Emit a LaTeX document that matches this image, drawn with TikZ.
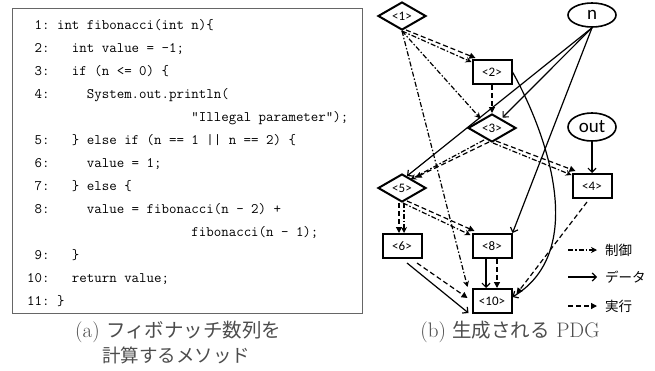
\documentclass[tikz,border=0pt]{standalone}
\usepackage{fontspec}
\newfontfamily\jpfont{Noto Sans CJK JP}
\newfontfamily\carlfont{Carlito}
\usetikzlibrary{shapes.geometric,arrows.meta}
\begin{document}
\begin{tikzpicture}[x=1pt,y=-1pt,
  codeline/.style={anchor=base west, inner sep=0pt, font=\ttfamily\fontsize{14.5}{17}\selectfont},
  rectn/.style={draw, line width=2pt, minimum width=39pt, minimum height=24pt, inner sep=0pt, font=\carlfont\fontsize{13}{14}\selectfont},
  diam/.style={draw, diamond, aspect=1.7, line width=2pt, minimum width=48pt, minimum height=28pt, inner sep=0pt, font=\carlfont\fontsize{13}{14}\selectfont},
  ell/.style={draw, ellipse, line width=1.6pt, minimum width=48pt, inner sep=0pt, font=\carlfont\fontsize{19}{20}\selectfont},
  ctrl/.style={line width=1.2pt, dash pattern=on 5pt off 2pt on 1.5pt off 2pt, -{Stealth[length=6pt,width=6pt,inset=2pt]}},
  data/.style={line width=1.2pt, -{Straight Barb[length=4pt,width=8pt]}},
  exec/.style={line width=1.2pt, dash pattern=on 5pt off 3pt, -{Triangle[length=6pt,width=6pt]}},
  legtext/.style={anchor=west, inner sep=0pt, font=\jpfont\fontsize{13.5}{15}\selectfont},
  caption/.style={inner sep=0pt, text=black!70, font=\rmfamily\fontsize{21}{23}\selectfont},
  capjp/.style={font=\jpfont\fontsize{19.5}{22}\selectfont}
]
\useasboundingbox (0,0) rectangle (655,370);

% code box
\draw[black!60, line width=1pt] (12,8) rectangle (362,313);
\node[codeline] (c1)  at (27,29)  {~1:~int~fibonacci(int~n)\{};
\node[codeline] (c2)  at (27,52)  {~2:~~~int~value~=~-1;};
\node[codeline] (c3)  at (27,75)  {~3:~~~if~(n~<=~0)~\{};
\node[codeline] (c4)  at (27,98)  {~4:~~~~~System.out.println(};
\node[codeline] (c4b) at (27,121) {~~~~~~~~~~~~~~~~~~~~~~"Illegal~parameter");};
\node[codeline] (c5)  at (27,144) {~5:~~~\}~else~if~(n~==~1~||~n~==~2)~\{};
\node[codeline] (c6)  at (27,167) {~6:~~~~~value~=~1;};
\node[codeline] (c7)  at (27,190) {~7:~~~\}~else~\{};
\node[codeline] (c8)  at (27,213) {~8:~~~~~value~=~fibonacci(n~-~2)~+};
\node[codeline] (c8b) at (27,236) {~~~~~~~~~~~~~~~~~~~~~~fibonacci(n~-~1);};
\node[codeline] (c9)  at (27,259) {~9:~~~\}};
\node[codeline] (c10) at (27,282) {10:~~~return~value;};
\node[codeline] (c11) at (27,305) {11:~\}};

% captions
\node[caption, anchor=west] (capa1) at (75,332) {(a) {\jpfont\fontsize{19.5}{22}\selectfont フィボナッチ数列を}};
\node[caption, anchor=west] (capa2) at (102,355) {{\jpfont\fontsize{18.5}{22}\selectfont 計算するメソッド}};
\node[caption] (capb) at (510,332) {(b) {\jpfont\fontsize{19.5}{22}\selectfont 生成される} PDG};

% graph nodes
\node[diam]  (n1)   at (402,16)  {<1>};
\node[rectn] (n2)   at (492,72)  {<2>};
\node[ell, minimum height=24pt] (nn) at (592,15) {n};
\node[diam]  (n3)   at (492,128) {<3>};
\node[ell, minimum height=28pt] (nout) at (592,127) {out};
\node[rectn] (n4)   at (592,186) {<4>};
\node[diam]  (n5)   at (402,188) {<5>};
\node[rectn] (n6)   at (402,246) {<6>};
\node[rectn] (n8)   at (492,246) {<8>};
\node[rectn] (n10)  at (492,301) {<10>};

% edges from <1>
\draw[ctrl] (n1.south) -- ([yshift=-3pt]n2.north west);
\draw[exec] ([xshift=4pt,yshift=1pt]n1.south) -- ([xshift=4pt,yshift=1pt]n2.north west);
\draw[ctrl] (n1.south) -- ([xshift=1pt,yshift=2pt]n3.north west);
\draw[ctrl] (n1.south) -- ([xshift=-4pt,yshift=1pt]n10.north west);

% edges from <2>
\draw[exec] (n2.south) -- (n3.north);
\draw[data] (n2.east) .. controls (545,130) and (590,250) .. ([yshift=4pt]n10.east);

% data edges from n and out
\draw[data] (nn.south) -- ([xshift=-2pt,yshift=3pt]n3.north east);
\draw[data] (nn.south) -- ([xshift=5pt,yshift=-3pt]n5.north);
\draw[data] (nn.south) -- (n8.north east);
\draw[data] (nout.south) -- (n4.north);

% edges from <3>
\draw[exec] ([xshift=-3pt,yshift=1pt]n3.south) -- ([xshift=1pt,yshift=3pt]n5.north east);
\draw[ctrl] ([xshift=-8pt,yshift=3pt]n3.south) -- ([xshift=-4pt,yshift=1pt]n5.north east);
\draw[exec] ([xshift=4pt,yshift=2pt]n3.south) -- ([xshift=4pt,yshift=2pt]n4.north west);
\draw[ctrl] ([xshift=1pt]n3.south) -- ([yshift=-2pt]n4.north west);

% edges from <5>
\draw[exec] ([xshift=-3pt]n5.south) -- ([xshift=-3pt]n6.north);
\draw[ctrl] ([xshift=2pt]n5.south) -- ([xshift=2pt]n6.north);
\draw[exec] ([xshift=5pt,yshift=2pt]n5.south) -- ([xshift=3pt,yshift=2pt]n8.north west);
\draw[ctrl] ([xshift=1pt]n5.south) -- ([xshift=-1pt,yshift=-2pt]n8.north west);

% edges from <6>, <8>, <4>
\draw[data] ([xshift=5pt,yshift=-4pt]n6.south) -- ([xshift=-3pt,yshift=1pt]n10.south west);
\draw[exec] ([xshift=15pt,yshift=-4pt]n6.south) -- ([xshift=-4pt,yshift=3pt]n10.west);
\draw[data] ([xshift=-6pt]n8.south) -- ([xshift=-6pt]n10.north);
\draw[exec] ([xshift=5pt]n8.south) -- ([xshift=5pt]n10.north);
\draw[exec] ([xshift=-5pt,yshift=-3pt]n4.south) -- ([xshift=4pt,yshift=7pt]n10.east);

% legend
\coordinate (lc1) at (568,250); \coordinate (lc2) at (597,250);
\coordinate (ld1) at (568,277); \coordinate (ld2) at (597,277);
\coordinate (le1) at (568,306); \coordinate (le2) at (597,306);
\draw[ctrl] (lc1) -- (lc2);
\draw[data] (ld1) -- (ld2);
\draw[exec] (le1) -- (le2);
\node[legtext] (lt1) at (605,250) {制御};
\node[legtext] (lt2) at (605,277) {データ};
\node[legtext] (lt3) at (605,306) {実行};
\end{tikzpicture}
\end{document}
